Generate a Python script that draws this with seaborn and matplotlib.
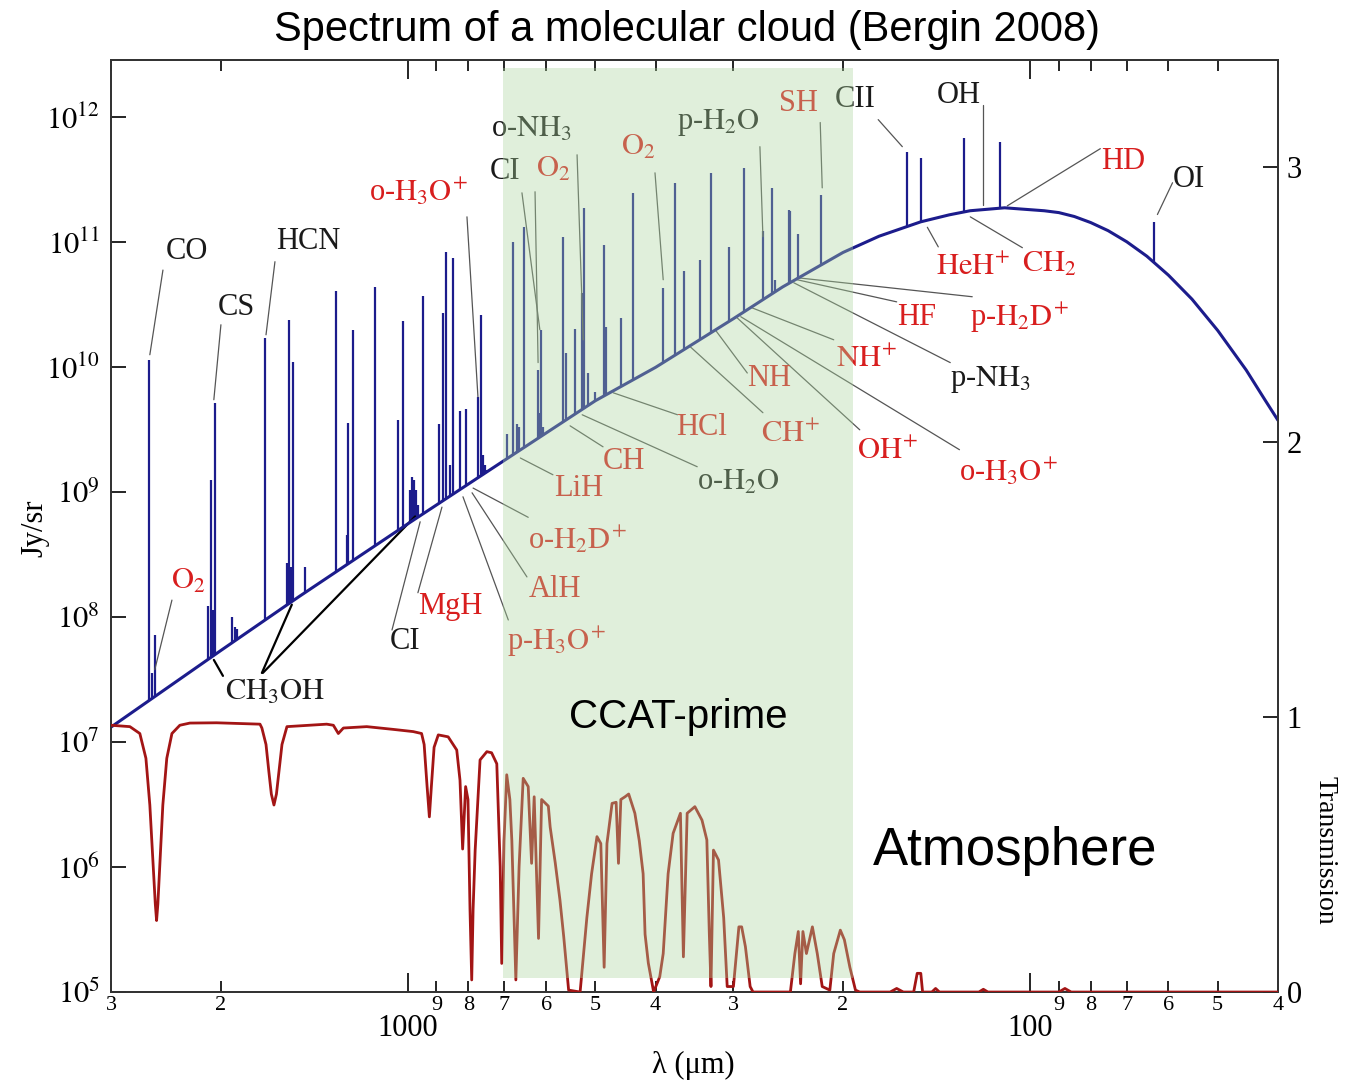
import numpy as np
import matplotlib
matplotlib.use("Agg")
import matplotlib.pyplot as plt
from matplotlib.ticker import NullLocator
import seaborn as sns

# ------------------ data (lambda in micron) ------------------
# dust continuum, Jy/sr
cont_lam = [3000, 2000, 1500, 1000, 700, 500, 400, 300, 250, 200, 175, 150, 135, 125, 110,
            95, 90, 85, 80, 75, 70, 65, 60, 55, 50, 45, 42, 40]
cont_J = [1.32e7, 5.4e7, 1.45e8, 5.6e8, 1.8e9, 5.4e9, 1.0e10, 2.45e10, 4.4e10, 8.3e10,
          1.12e11, 1.46e11, 1.66e11, 1.79e11, 1.89e11, 1.79e11, 1.73e11, 1.61e11, 1.44e11,
          1.24e11, 1.01e11, 7.75e10, 5.46e10, 3.51e10, 1.97e10, 9.5e9, 5.5e9, 3.76e9]

# line peaks
line_lam = [2605, 2577, 2552, 2095, 2073, 2060, 2043, 1920, 1897, 1883, 1698, 1567, 1553,
            1544, 1532, 1464, 1306, 1255, 1247, 1224, 1130, 1039, 1020, 993, 985, 978, 971,
            964, 946, 891, 878, 869, 856, 845.5, 825, 807, 773, 764, 757, 752, 746, 693,
            678, 669, 663.5, 651, 618, 614, 611, 606.7, 564, 557, 539, 525.6, 520.6, 513,
            500.6, 483.5, 481, 454.6, 434.3, 388.6, 372, 359.8, 339.3, 325.8, 305.5, 289,
            268.5, 260, 257, 244.6, 243.5, 236.6, 216.8, 157.6, 149.7, 127.6, 112, 63.2]
line_peak = [1.15e10, 3.6e7, 7.2e7, 1.23e8, 1.26e9, 1.15e8, 5.2e9, 1.0e8, 8.3e7, 8.0e7,
             1.72e10, 2.72e8, 2.4e10, 2.5e8, 1.1e10, 2.5e8, 4.07e10, 4.57e8, 3.6e9, 2.0e10,
             4.4e10, 3.8e9, 2.34e10, 1.05e9, 1.32e9, 1.26e9, 1.05e9, 7.9e8, 3.7e10, 3.5e9,
             2.73e10, 8.3e10, 1.66e9, 7.5e10, 4.5e9, 4.66e9, 5.8e9, 2.6e10, 2.0e9, 1.66e9,
             1.5e9, 2.9e9, 1.01e11, 3.5e9, 3.3e9, 1.33e11, 9.5e9, 4.3e9, 2.0e10, 3.3e9,
             1.11e11, 1.31e10, 2.04e10, 3.95e10, 1.9e11, 9.0e9, 6.3e9, 9.5e10, 2.1e10,
             2.5e10, 2.5e11, 4.3e10, 3.0e11, 5.9e10, 7.2e10, 3.6e11, 9.2e10, 3.95e11,
             1.23e11, 2.7e11, 5.0e10, 1.82e11, 1.78e11, 1.17e11, 2.4e11, 5.3e11, 4.7e11,
             6.9e11, 6.3e11, 1.46e11]

# atmospheric transmission
trans_lam = [3000, 2798, 2697, 2637, 2599, 2570, 2547, 2535, 2523, 2500, 2477, 2441, 2395,
             2326, 2241, 2030, 1729, 1717, 1691, 1673, 1658, 1642, 1627, 1612, 1594, 1565,
             1351, 1318, 1294, 1270, 1165, 1056, 981, 951, 942, 932, 924, 917, 908, 894, 862,
             835, 825, 817, 808, 801, 795, 790, 786, 780, 766, 747, 734, 720, 711, 707, 701,
             694, 686, 681, 671, 663, 653, 641, 633, 627, 617, 610, 595, 591, 580, 570, 562,
             552, 529, 516, 507, 497, 490, 484, 479, 470, 463, 459, 455, 448, 442, 432, 425,
             419, 416, 411, 403, 394, 389, 382, 375, 365, 361, 356, 346, 337, 331, 328, 326,
             323, 317, 311, 307, 300, 294, 291, 287, 282, 279, 243, 239, 236, 234, 232, 229,
             224, 220, 216, 210, 207, 202, 199, 195, 191, 188, 168, 164, 160, 154, 152, 150,
             149, 144, 142, 140, 121, 119, 117, 90, 88, 86, 40]
trans_T = [0.97, 0.965, 0.94, 0.85, 0.68, 0.48, 0.32, 0.26, 0.32, 0.5, 0.68, 0.85, 0.94,
           0.97, 0.978, 0.979, 0.974, 0.96, 0.9, 0.8, 0.72, 0.68, 0.72, 0.8, 0.9, 0.965,
           0.974, 0.97, 0.94, 0.96, 0.965, 0.955, 0.947, 0.94, 0.9, 0.75, 0.637, 0.75, 0.89,
           0.935, 0.928, 0.88, 0.77, 0.52, 0.747, 0.70, 0.3, 0.044, 0.3, 0.516, 0.844, 0.874,
           0.87, 0.83, 0.456, 0.104, 0.55, 0.79, 0.70, 0.55, 0.044, 0.456, 0.777, 0.747,
           0.468, 0.71, 0.195, 0.70, 0.676, 0.60, 0.47, 0.335, 0.2, 0.007, 0.0, 0.27, 0.43,
           0.565, 0.54, 0.09, 0.54, 0.686, 0.69, 0.468, 0.70, 0.71, 0.72, 0.65, 0.55, 0.43,
           0.21, 0.105, 0.0, 0.056, 0.14, 0.43, 0.577, 0.65, 0.128, 0.65, 0.674, 0.625,
           0.553, 0.213, 0.02, 0.516, 0.48, 0.27, 0.02, 0.02, 0.237, 0.237, 0.165, 0.02, 0.0,
           0.0, 0.14, 0.22, 0.03, 0.22, 0.14, 0.237, 0.14, 0.02, 0.007, 0.14, 0.225, 0.19,
           0.09, 0.007, 0.0, 0.0, 0.013, 0.0, 0.0, 0.068, 0.068, 0.0, 0.0, 0.013, 0.0, 0.0,
           0.01, 0.0, 0.0, 0.013, 0.0, 0.0]

# species labels: text, colour, text position, leader start, leader end
labels = [
    ("CO", "k", 2266, 8.4e10, 2476, 6.0e10, 2599, 1.26e10),
    ("CS", "k", 1890, 2.99e10, 1998, 2.19e10, 2051, 5.5e9),
    ("HCN", "k", 1448, 1.01e11, 1636, 7.0e10, 1691, 1.82e10),
    (r"$\mathrm{O_2}$", "r", 2258, 1.92e8, 2395, 1.37e8, 2552, 3.8e7),
    ("CI", "k", 1011, 6.34e7, 1061, 7.9e7, 956, 5.8e8),
    ("MgH", "r", 856, 1.21e8, 964, 1.57e8, 882, 7.6e8),
    (r"p-$\mathrm{H_3O^{\!+}}$", "r", 578, 6.34e7, 690, 9.5e7, 816, 9.2e8),
    ("AlH", "r", 580, 1.66e8, 644, 2.1e8, 789, 9.9e8),
    (r"o-$\mathrm{H_2D^{\!+}}$", "r", 535, 4.16e8, 641, 6.3e8, 786, 1.08e9),
    ("LiH", "r", 531, 1.08e9, 585, 1.38e9, 660, 1.88e9),
    ("CH", "r", 450, 1.75e9, 486, 2.31e9, 549, 3.4e9),
    (r"o-$\mathrm{H_2O}$", "k", 294, 1.21e9, 343, 1.6e9, 525, 4.17e9),
    ("HCl", "r", 337, 3.28e9, 369, 4.17e9, 468, 6.25e9),
    (r"$\mathrm{CH^{\!+}}$", "r", 243, 2.88e9, 269, 4.33e9, 352, 1.46e10),
    ("NH", "r", 263, 8.2e9, 285, 9.0e9, 321, 2.0e10),
    (r"$\mathrm{OH^{\!+}}$", "r", 170, 2.11e9, 188, 3.16e9, 296, 2.49e10),
    (r"o-$\mathrm{H_3O^{\!+}}$", "r", 108.5, 1.46e9, 130, 2.19e9, 292, 2.54e10),
    (r"$\mathrm{NH^{\!+}}$", "r", 183.5, 1.15e10, 207, 1.66e10, 280, 2.99e10),
    (r"p-$\mathrm{NH_3}$", "k", 116, 7.94e9, 134.5, 1.09e10, 240, 4.75e10),
    ("HF", "r", 152.5, 2.49e10, 164, 3.34e10, 237, 5.02e10),
    (r"p-$\mathrm{H_2D^{\!+}}$", "r", 104, 2.49e10, 124, 3.67e10, 237, 5.21e10),
    (r"$\mathrm{HeH^{\!+}}$", "r", 123.5, 6.27e10, 140.6, 9.2e10, 146.4, 1.32e11),
    (r"$\mathrm{CH_2}$", "r", 93.2, 6.62e10, 103, 9.06e10, 124.9, 1.6e11),
    ("HD", "r", 70.9, 4.42e11, 77.2, 5.62e11, 108.9, 1.96e11),
    ("OI", "k", 55.7, 3.17e11, 59.1, 3.0e11, 62.5, 1.67e11),
    ("OH", "k", 130.5, 1.49e12, 119, 1.26e12, 119, 2.0e11),
    ("CII", "k", 191, 1.39e12, 175.6, 9.6e11, 160.6, 5.83e11),
    ("SH", "r", 236, 1.29e12, 217.6, 9.1e11, 216, 2.73e11),
    (r"p-$\mathrm{H_2O}$", "k", 317.5, 9.1e11, 272, 5.83e11, 269, 1.11e11),
    (r"$\mathrm{O_2}$", "r", 427, 5.73e11, 401, 3.6e11, 389, 5.02e10),
    (r"o-$\mathrm{NH_3}$", "k", 632, 7.98e11, 535, 5.02e11, 523, 1.66e10),
    ("CI", "k", 698, 3.67e11, 656, 2.49e11, 614, 2.0e10),
    (r"$\mathrm{O_2}$", "r", 585, 3.81e11, 625, 2.54e11, 618, 1.09e10),
    (r"o-$\mathrm{H_3O^{\!+}}$", "r", 964, 2.54e11, 804, 1.6e11, 772, 5.8e9),
]
# CH3OH label with its three leaders
ch3oh_pos = (1636, 2.52e7)
ch3oh_leads = [((1983, 3.39e7), (2051, 4.55e7)),
               ((1717, 3.58e7), (1537, 1.26e8)),
               ((1711, 3.58e7), (974, 6.4e8))]

x_major = [1000, 100]
x_major_lab = ["1000", "100"]
x_minor = [3000, 2000, 900, 800, 700, 600, 500, 400, 300, 200, 90, 80, 70, 60, 50, 40]
x_minor_lab = ["3", "2", "9", "8", "7", "6", "5", "4", "3", "2", "9", "8", "7", "6", "5", "4"]
y_ticks = [1e5, 1e6, 1e7, 1e8, 1e9, 1e10, 1e11, 1e12]
y_tick_lab = [f"$10^{{{e}}}$" for e in range(5, 13)]
t_ticks = [0, 1, 2, 3]

ccat_band = (703, 192.6)

# ------------------ style ------------------
sns.set_style("ticks")
plt.rcParams["font.family"] = ["Liberation Serif", "DejaVu Serif"]
plt.rcParams["mathtext.fontset"] = "stix"
for k in ("text.color", "axes.labelcolor", "xtick.color", "ytick.color"):
    plt.rcParams[k] = "black"

BLUE = "#1c1c8c"
DRED = "#a31515"
RED = "#d81e1e"
INK = "#1a1a1a"
SANS = ["Liberation Sans", "DejaVu Sans"]

fig = plt.figure(figsize=(13.51, 10.81), dpi=100)
ax = fig.add_axes([0.0822, 0.0823, 0.8638, 0.8622])
ax.set_xscale("log")
ax.set_yscale("log")
ax.set_xlim(3000, 40)
ax.set_ylim(1e5, 2.88e12)

# continuum + lines
sns.lineplot(x=cont_lam, y=cont_J, ax=ax, color=BLUE, lw=2.2, sort=False,
             estimator=None, zorder=3)
lc = np.log10(cont_lam[::-1])
jc = np.log10(cont_J[::-1])
base = 10 ** np.interp(np.log10(line_lam), lc, jc)
ax.vlines(line_lam, base, line_peak, color=BLUE, lw=1.6, zorder=2)

# labels
for txt, c, tx, ty, x0, y0, x1, y1 in labels:
    ax.plot([x0, x1], [y0, y1], color="#555555", lw=0.9, zorder=2.5)
    ax.text(tx, ty, txt, color=RED if c == "r" else INK, fontsize=22,
            ha="center", va="center", zorder=4)
ax.text(*ch3oh_pos, r"$\mathrm{CH_3OH}$", color=INK, fontsize=22, ha="center",
        va="center", zorder=4)
for (x0, y0), (x1, y1) in ch3oh_leads:
    ax.plot([x0, x1], [y0, y1], color="black", lw=1.6, zorder=2.5)

# ticks
ax.set_xticks(x_major, x_major_lab)
ax.set_xticks(x_minor, x_minor_lab, minor=True)
ax.tick_params(axis="x", which="major", direction="in", length=14, width=1.2,
               labelsize=22, pad=16, top=True)
ax.tick_params(axis="x", which="minor", direction="in", length=8, width=1.2,
               labelsize=16, pad=3, top=True)
ax.set_yticks(y_ticks, y_tick_lab)
ax.yaxis.set_minor_locator(NullLocator())
ax.tick_params(axis="y", direction="in", length=11, width=1.2, labelsize=22, pad=8)

# transmission on the right axis
ax2 = ax.twinx()
ax2.set_ylim(0, 3.389)
sns.lineplot(x=trans_lam, y=trans_T, ax=ax2, color=DRED, lw=2.0, sort=False,
             estimator=None, zorder=3)
ax2.set_yticks(t_ticks, [str(t) for t in t_ticks])
ax2.yaxis.set_minor_locator(NullLocator())
ax2.tick_params(axis="y", direction="in", length=11, width=1.2, labelsize=22, pad=6)
ax2.set_ylabel("")

# CCAT-prime band, drawn over everything
ax2.axvspan(*ccat_band, ymin=0.015, ymax=0.991, color="#abd69e", alpha=0.37, lw=0, zorder=5)
ax2.text(368, 1.0, "CCAT-prime", family=SANS, fontsize=29, ha="center", va="center", zorder=6)
ax2.text(178.8, 0.513, "Atmosphere", family=SANS, fontsize=38, ha="left", va="center", zorder=6)

for a in (ax, ax2):
    for s in a.spines.values():
        s.set_color("#333333")
        s.set_linewidth(1.3)

fig.text(0.5086, 0.972, "Spectrum of a molecular cloud (Bergin 2008)", family=SANS,
         fontsize=30, ha="center", va="center")
fig.text(35 / 1351, 1 - 528 / 1081, "Jy/sr", fontsize=22, rotation=90, ha="center", va="center")
fig.text(1325 / 1351, 1 - 850 / 1081, "Transmission", fontsize=20, rotation=270,
         ha="center", va="center")
fig.text(693 / 1351, 1 - 1065 / 1081, "λ (μm)", fontsize=22, ha="center", va="center")

fig.savefig("out.png", dpi=100)
